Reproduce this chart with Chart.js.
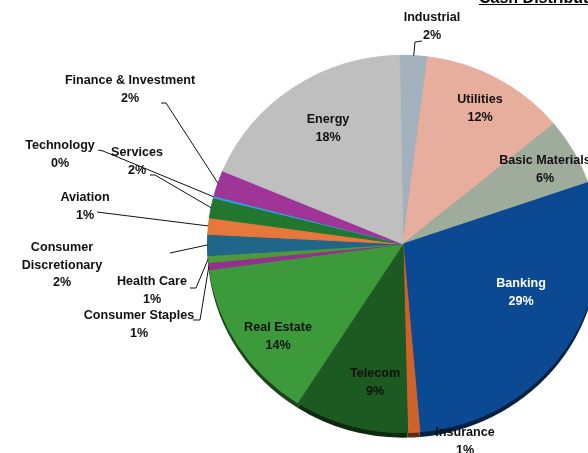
<!DOCTYPE html>
<html><head><meta charset="utf-8">
<script src="https://cdn.jsdelivr.net/npm/chart.js@4.4.1/dist/chart.umd.min.js"></script>
<style>
html,body{margin:0;padding:0;background:#fff;overflow:hidden;width:588px;height:453px;}
#wrap{position:absolute;left:0;top:0;width:806px;height:488px;}
#title{position:absolute;left:479px;top:-10px;font:bold 16px "Liberation Sans",Arial,sans-serif;line-height:16px;text-decoration:underline;white-space:nowrap;color:#000;}
</style></head><body>
<div id="wrap"><canvas id="c" width="806" height="488"></canvas></div>
<div id="title">Cash Distribution by Sector</div>
<script>
// ---- data ----
const categories = ['Industrial','Utilities','Basic Materials','Banking','Insurance','Telecom','Real Estate',
  'Consumer Staples','Health Care','Consumer Discretionary','Aviation','Services','Technology','Finance & Investment','Energy'];
const shares = [2.3, 12.0, 5.7, 28.9, 1.0, 9.45, 13.75, 0.6, 0.6, 1.8, 1.4, 1.7, 0.2, 2.2, 18.4];
const colors = ['#a3b0be','#e8ae9d','#9fac9b','#0b4a93','#cf622a','#1c5a22','#3c9a3b',
  '#972f91','#4c9a3a','#1f6688','#e8773c','#217730','#2a9fd6','#a03598','#bfbfbf'];

// ---- label layout (annotation positions, px) ----
const labelLayout = [
  {x:432,y:18, line:[[415,42],[422,41]]},
  {x:480,y:100},
  {x:545,y:161},
  {x:521,y:284, color:'#fff'},
  {x:465,y:433},
  {x:375,y:374},
  {x:278,y:328},
  {x:139,y:316, line:[[200,320],[193,320]]},
  {x:152,y:282, line:[[196,288],[190,288]]},
  {x:62,y:248, wrap:true, line:[[170,253]]},
  {x:85,y:198, line:[[97,212]]},
  {x:137,y:153, line:[[155,175],[150,175]]},
  {x:60,y:146, line:[[103,151],[98,150]]},
  {x:130,y:81, line:[[166,103],[161,103]]},
  {x:328,y:120}
];
const K = 0.965;       // vertical squash of the pie
const DEPTH = 5;       // 3D edge thickness
const FONT = 'bold 12.6px "Liberation Sans", Arial, sans-serif';

function darken(hex, f){
  const n = parseInt(hex.slice(1),16);
  const r = Math.round(((n>>16)&255)*f), g = Math.round(((n>>8)&255)*f), b = Math.round((n&255)*f);
  return 'rgb('+r+','+g+','+b+')';
}

const pie3d = {
  id:'pie3d',
  beforeDatasetsDraw(chart){
    const ctx = chart.ctx, arcs = chart.getDatasetMeta(0).data;
    const cx = arcs[0].x, cy = arcs[0].y;
    ctx.save();
    ctx.translate(cx, cy); ctx.scale(1, K); ctx.translate(-cx, -cy);
    arcs.forEach((a,i)=>{
      ctx.beginPath();
      ctx.moveTo(a.x, a.y + DEPTH/K);
      ctx.arc(a.x, a.y + DEPTH/K, a.outerRadius, a.startAngle, a.endAngle);
      ctx.closePath();
      ctx.fillStyle = darken(colors[i], 0.45);
      ctx.fill();
    });
  },
  afterDatasetsDraw(chart){
    const ctx = chart.ctx;
    ctx.restore();
    const arcs = chart.getDatasetMeta(0).data;
    ctx.save();
    ctx.font = FONT;
    ctx.textAlign = 'center';
    ctx.textBaseline = 'middle';
    arcs.forEach((a,i)=>{
      const L = labelLayout[i];
      if (L.line){
        const m = (a.startAngle + a.endAngle)/2;
        const sx = a.x + a.outerRadius*Math.cos(m);
        const sy = a.y + K*a.outerRadius*Math.sin(m);
        ctx.beginPath();
        ctx.moveTo(sx, sy);
        L.line.forEach(p=>ctx.lineTo(p[0], p[1]));
        ctx.strokeStyle = '#111';
        ctx.lineWidth = 1;
        ctx.stroke();
      }
      const lines = L.wrap ? categories[i].split(' ') : [categories[i]];
      lines.push(Math.round(shares[i]) + '%');
      ctx.fillStyle = L.color || '#111';
      lines.forEach((t,j)=>ctx.fillText(t, L.x, L.y + j*17.5));
    });
    ctx.restore();
  }
};

new Chart(document.getElementById('c'), {
  type:'pie',
  data:{ labels:categories, datasets:[{ data:shares, backgroundColor:colors, borderColor:colors, borderWidth:1 }]},
  options:{
    responsive:false, animation:false, devicePixelRatio:1,
    rotation:-1,
    layout:{ padding:{ top:48, bottom:48, left:0, right:0 } },
    plugins:{ legend:{display:false}, tooltip:{enabled:false} }
  },
  plugins:[pie3d]
});
</script>
</body></html>
